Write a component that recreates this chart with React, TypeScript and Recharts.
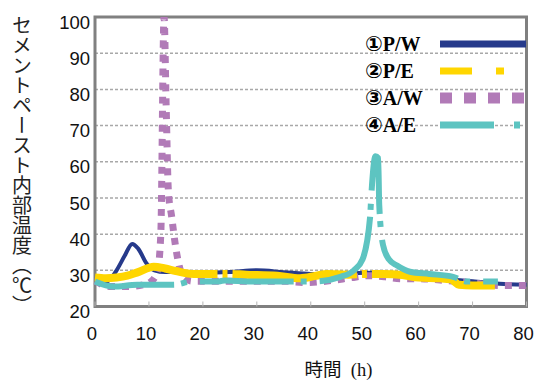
import React from 'react';
import { LineChart, Line, XAxis, YAxis, CartesianGrid, ReferenceArea, Legend } from 'recharts';

// tick labels
const xTicks = [0, 10, 20, 30, 40, 50, 60, 70, 80];
const yTicks = [20, 30, 40, 50, 60, 70, 80, 90, 100];

// ①P/W
const pwHours = [0, 1.5, 2.8, 4, 5.5, 6.9, 8, 9.6, 11, 13, 16, 20, 25, 30, 35, 40, 45, 50, 55, 60, 65, 70, 75, 80];
const pwTemps = [27, 26.5, 27.5, 30, 34, 37.3, 36, 31.8, 30, 29.5, 29.5, 29.3, 29.5, 30, 29.5, 29, 29, 29.3, 29, 28, 27.5, 27, 26.3, 26];

// ②P/E
const peHours = [0, 2, 4, 6, 8, 10.9, 13, 15, 18.3, 22, 24.6, 28, 33.8, 38, 41, 43, 47, 50, 53.4, 57, 60, 64, 66, 67.5, 70, 74.7];
const peTemps = [28, 27.8, 28, 28.5, 29.5, 31, 30.5, 29.8, 29, 29, 29, 28.8, 28.5, 27.8, 28.5, 29, 28.8, 29, 29, 28.7, 28, 27.8, 27.5, 26, 25.8, 25.8];

// ③A/W
const awHours = [0, 3, 6, 9, 10.5, 11.6, 12.2, 12.8, 13.2, 13.6, 14.2, 15, 15.5, 16.3, 18, 20, 25, 30, 35, 39, 44, 47.6, 50.6, 53.8, 56.7, 59.5, 65, 70, 75.5, 80];
const awTemps = [27, 25.5, 25.5, 26, 27, 30, 40, 100, 75, 52, 45, 36, 32, 28.3, 27, 27, 27, 27, 27, 26.6, 27.2, 28, 28.5, 28.2, 27.7, 27.7, 27.2, 26.5, 25.8, 25.8];

// ④A/E
const aeHours = [0, 3.4, 7.8, 14.6, 18, 23, 24, 29, 37, 40.5, 45.5, 48, 49.6, 51, 51.2, 52, 52.5, 52.7, 53.4, 54.5, 56, 58.4, 62, 66.4, 69, 74.7];
const aeTemps = [26.9, 25.5, 26, 26, 26.9, 26.9, 27.2, 26.9, 26.9, 26.9, 28.2, 30, 33, 44.7, 50, 61.5, 61, 48, 37, 33, 31.3, 29.6, 29, 28.2, 26.9, 26.9];

const toRows = (hours: number[], temps: number[]) => hours.map((h, i) => ({ h, t: temps[i] }));

const series = [
  { num: '①', name: 'P/W', color: '#263a8b', width: 4, dash: undefined, offset: 0, legendDash: undefined, legendWidth: 7, rows: toRows(pwHours, pwTemps) },
  { num: '③', name: 'A/W', color: '#b17ab7', width: 7, dash: '7 7', offset: 0, legendDash: '12 12', legendWidth: 11, rows: toRows(awHours, awTemps) },
  { num: '②', name: 'P/E', color: '#ffd600', width: 8, dash: '125 5 5 5', offset: 0, legendDash: '32 24 8 40', legendWidth: 7, rows: toRows(peHours, peTemps) },
  { num: '④', name: 'A/E', color: '#5dc4c1', width: 6, dash: '94 7 6 13', offset: 14, legendDash: '54 20 6 40', legendWidth: 7, rows: toRows(aeHours, aeTemps) },
];

const legendOrder = ['P/W', 'P/E', 'A/W', 'A/E'];

const serif = "'Liberation Serif', 'Noto Sans CJK JP', serif";
const sans = "'Liberation Sans', Arial, sans-serif";

const XTick = (props: any) => {
  const { x, y, payload } = props;
  return (
    <g>
      <line x1={x} x2={x} y1={y - 20} y2={y - 25} stroke="#b5b5b5" strokeWidth={1} />
      <text x={x - 3} y={y} dy="0.71em" textAnchor="middle" fontFamily={sans} fontSize={18.5} fill="#111">
        {payload.value}
      </text>
    </g>
  );
};

const YTick = (props: any) => {
  const { x, y, payload } = props;
  return (
    <text x={x} y={y + 5} dy="0.355em" textAnchor="end" fontFamily={sans} fontSize={18.5} fill="#111">
      {payload.value}
    </text>
  );
};

const renderYTitle = (props: any) => {
  const vb = props.viewBox || { x: 0, y: 17 };
  return (
    <text
      x={vb.x + 22}
      y={vb.y - 2}
      fontFamily="'Noto Sans CJK JP', sans-serif"
      fontSize={20}
      fill="#222"
      style={{ writingMode: 'vertical-rl' }}
    >
      セメントペースト内部温度（℃）
    </text>
  );
};

const renderXTitle = (props: any) => {
  const vb = props.viewBox || { x: 95, y: 306.5 };
  return (
    <text
      x={vb.x + 243.5}
      y={vb.y + 63.5}
      textAnchor="middle"
      dominantBaseline="central"
      fontFamily={serif}
      fontSize={18.5}
      fill="#111"
      style={{ whiteSpace: 'pre' }}
    >
      {'時間  (h)'}
    </text>
  );
};

const LegendBox = () => (
  <div>
    {legendOrder.map((name) => {
      const s = series.find((d) => d.name === name)!;
      return (
        <div key={name} style={{ display: 'flex', alignItems: 'center', height: 27 }}>
          <span style={{ width: 75, fontFamily: serif, fontWeight: 'bold', fontSize: 20, color: '#000', lineHeight: '27px', whiteSpace: 'nowrap' }}>
            <span style={{ fontFamily: "'DejaVu Sans', 'Noto Sans CJK JP', sans-serif", fontWeight: 'bold', fontSize: 21 }}>{s.num}</span>
            {s.name}
          </span>
          <svg width={86} height={14}>
            <line
              x1={0}
              x2={86}
              y1={7}
              y2={7}
              stroke={s.color}
              strokeWidth={s.legendWidth}
              strokeDasharray={s.legendDash}
            />
          </svg>
        </div>
      );
    })}
  </div>
);

export default function App() {
  return (
    <div style={{ position: 'absolute', left: 0, top: 0, background: '#fff' }}>
      <LineChart width={536} height={381} margin={{ top: 17, right: 9.5, left: 0, bottom: 44.5 }}>
        <CartesianGrid vertical={false} stroke="#a8a8a8" strokeDasharray="3 2" strokeWidth={1.5} />
        <XAxis
          dataKey="h"
          type="number"
          domain={[0, 80]}
          ticks={xTicks}
          axisLine={false}
          tickLine={false}
          tickSize={0}
          tickMargin={20}
          height={30}
          tick={<XTick />}
          allowDuplicatedCategory={false}
          label={{ value: '時間 (h)', content: renderXTitle }}
        />
        <YAxis
          type="number"
          domain={[20, 100]}
          ticks={yTicks}
          axisLine={false}
          tickLine={false}
          tickSize={0}
          tickMargin={5}
          width={95}
          tick={<YTick />}
          allowDataOverflow
          label={{ value: 'セメントペースト内部温度（℃）', content: renderYTitle }}
        />
        {series.map((s) => (
          <Line
            key={s.name}
            data={s.rows}
            dataKey="t"
            name={s.num + s.name}
            type="monotone"
            stroke={s.color}
            strokeWidth={s.width}
            strokeDasharray={s.dash}
            strokeDashoffset={s.offset}
            dot={false}
            activeDot={false}
            isAnimationActive={false}
          />
        ))}
        <ReferenceArea x1={0} x2={80} y1={20} y2={100} fill="none" stroke="#808080" strokeWidth={3} ifOverflow="visible" />
        <Legend
          layout="vertical"
          align="center"
          verticalAlign="middle"
          content={<LegendBox />}
          wrapperStyle={{ position: 'absolute', left: 365, top: 30.5, width: 170 }}
        />
      </LineChart>
    </div>
  );
}
